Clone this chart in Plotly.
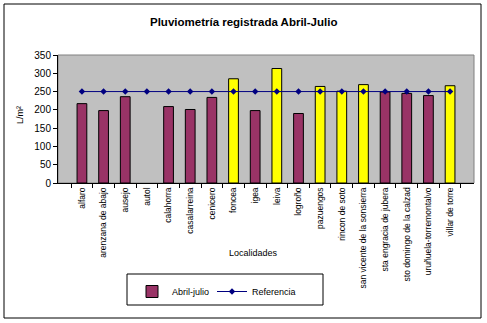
import plotly.graph_objects as go

# Rainfall April-July per locality (L/m2); autol has no record
localidades = [
    "alfaro", "arenzana de abajo", "ausejo", "autol", "calahorra",
    "casalarreina", "cenicero", "foncea", "igea", "leiva", "logroño",
    "pazuengos", "rincon de soto", "san vicente de la sonsierra",
    "sta engracia de jubera", "sto domingo de la calzad",
    "uruñuela-torremontalvo", "villar de torre",
]
abril_julio = [217, 198, 236, None, 209, 201, 234, 285, 198, 313, 190,
               264, 251, 269, 249, 245, 239, 266]
referencia = [250] * len(localidades)
y_ticks = [0, 50, 100, 150, 200, 250, 300, 350]

PURPLE = "#993366"
YELLOW = "#FFFF00"
NAVY = "#000080"
FONT = "Liberation Sans, Arial, sans-serif"

# bars above the reference level are highlighted
bar_colors = [YELLOW if (v is not None and v >= r) else PURPLE
              for v, r in zip(abril_julio, referencia)]

W, H = 487, 323
L, R, T, B = 58, 474, 55, 183


def px(x):
    return (x - L) / (R - L)


def py(y):
    return (B - y) / (B - T)


fig = go.Figure()
fig.add_trace(go.Bar(
    x=localidades, y=abril_julio, name="Abril-julio",
    marker=dict(color=bar_colors, line=dict(color="black", width=1)),
    legend="legend",
))
fig.add_trace(go.Scatter(
    x=localidades, y=referencia, name="Referencia", mode="lines+markers",
    line=dict(color=NAVY, width=1),
    marker=dict(symbol="diamond", size=5, color=NAVY),
    legend="legend2",
))

shapes = [
    # plot area background and grey frame
    dict(type="rect", xref="paper", yref="paper", x0=0, x1=1, y0=0, y1=1,
         fillcolor="#C0C0C0", line=dict(color="#808080", width=1),
         layer="below"),
    # clip long category labels at the lower edge
    dict(type="rect", xref="paper", yref="paper",
         x0=px(332), x1=px(479), y0=py(316), y1=py(290),
         fillcolor="white", line=dict(width=0), layer="above"),
    # legend box
    dict(type="rect", xref="paper", yref="paper",
         x0=px(127), x1=px(323), y0=py(305), y1=py(274),
         fillcolor="rgba(0,0,0,0)", line=dict(color="black", width=1),
         layer="above"),
    # chart border
    dict(type="rect", xref="paper", yref="paper",
         x0=px(4), x1=px(481), y0=py(318), y1=py(4),
         fillcolor="rgba(0,0,0,0)", line=dict(color="black", width=1),
         layer="above"),
]

annotations = [
    dict(text="<b>Pluviometría registrada Abril-Julio</b>", xref="paper",
         yref="paper", x=px(243), y=py(22), xanchor="center",
         yanchor="middle", showarrow=False,
         font=dict(family=FONT, size=11.5, color="black")),
    dict(text="L/m²", xref="paper", yref="paper", x=px(20), y=py(115),
         xanchor="center", yanchor="middle", showarrow=False, textangle=-90,
         font=dict(family=FONT, size=9, color="black")),
    dict(text="Localidades", xref="paper", yref="paper", x=px(253),
         y=py(253), xanchor="center", yanchor="middle", showarrow=False,
         font=dict(family=FONT, size=9, color="black")),
]

legend_style = dict(orientation="h", xanchor="left", yanchor="top",
                    bgcolor="rgba(0,0,0,0)", borderwidth=0,
                    font=dict(family=FONT, size=9))

fig.update_layout(
    width=W, height=H,
    margin=dict(l=L, r=W - R, t=T, b=H - B),
    paper_bgcolor="white", plot_bgcolor="rgba(0,0,0,0)",
    font=dict(family=FONT, size=9, color="black"),
    bargap=0.55,
    showlegend=True,
    legend=dict(x=px(132), y=py(277), **legend_style),
    legend2=dict(x=px(212), y=py(277), **legend_style),
    shapes=shapes, annotations=annotations,
)
fig.update_xaxes(
    type="category", tickson="boundaries", ticks="outside", ticklen=4,
    tickcolor="black", showline=True, linecolor="black", linewidth=1,
    showgrid=False, tickangle=-90, tickfont=dict(family=FONT, size=8.5),
    fixedrange=True,
)
fig.update_yaxes(
    range=[0, 350], tickvals=y_ticks, ticks="outside", ticklen=4,
    tickcolor="black", showline=True, linecolor="black", linewidth=1,
    showgrid=False, zeroline=False, tickfont=dict(family=FONT, size=10),
    fixedrange=True,
)

fig.write_html("out.html")
